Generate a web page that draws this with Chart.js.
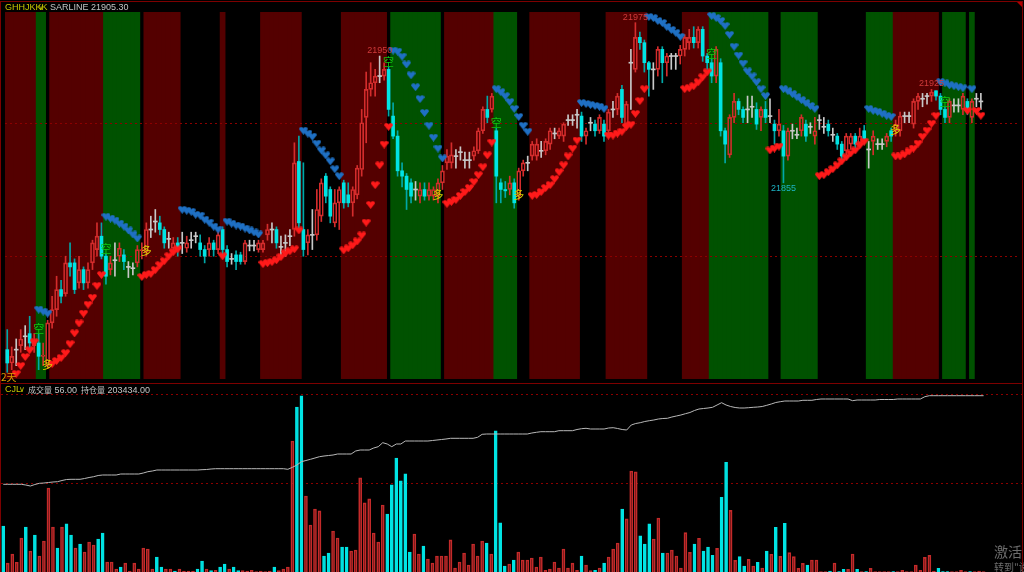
<!DOCTYPE html>
<html>
<head>
<meta charset="utf-8">
<script src="https://cdn.jsdelivr.net/npm/chart.js@4.4.0/dist/chart.umd.min.js"></script>
<style>
html, body { margin: 0; padding: 0; background: #000; width: 1024px; height: 572px; overflow: hidden; }
#wrap { position: relative; width: 1024px; height: 572px; overflow: hidden; }
canvas { position: absolute; left: 0; }
#priceCanvas { top: 0; }
#volCanvas { top: 384px; }
.t { position: absolute; white-space: nowrap; font-family: "Liberation Sans", "Noto Sans CJK SC", sans-serif; font-size: 9px; line-height: 9px; }
.line { position: absolute; background: #7d0000; }
</style>
</head>
<body>
<div id="wrap">
  <canvas id="priceCanvas" width="1024" height="384"></canvas>
  <canvas id="volCanvas" width="1024" height="188"></canvas>

  <div class="line" style="left:0;top:1px;width:1023px;height:1px;"></div>
  <div class="line" style="left:0;top:1px;width:1px;height:571px;"></div>
  <div class="line" style="left:1022px;top:1px;width:1px;height:571px;"></div>
  <div class="line" style="left:0;top:383px;width:1023px;height:1px;"></div>
  <div style="position:absolute;left:1017px;top:2px;width:0;height:0;border-top:5px solid #b00000;border-left:5px solid transparent;"></div>

  <div class="t" style="left:5px;top:3px;color:#c8c800;">GHHJKKK</div>
  <div class="t" style="left:38px;top:3px;color:#c8c800;font-family:'DejaVu Sans';font-size:8px;">&#8744;</div>
  <div class="t" style="left:50px;top:3px;color:#c4c4c4;">SARLINE 21905.30</div>
  <div class="t" style="left:1px;top:372px;color:#e09a00;font-family:'Noto Sans CJK SC';font-size:10px;line-height:10px;">2天</div>

  <div class="t" style="left:5px;top:385px;color:#c8c800;">CJL</div>
  <div class="t" style="left:19px;top:385px;color:#c8c800;font-family:'DejaVu Sans';font-size:8px;">&#8744;</div>
  <div class="t" style="left:28px;top:385px;color:#c4c4c4;"><span style="font-family:'Noto Sans CJK SC';font-size:8px;">成交量</span> 56.00</div>
  <div class="t" style="left:81px;top:385px;color:#c4c4c4;"><span style="font-family:'Noto Sans CJK SC';font-size:8px;">持仓量</span> 203434.00</div>

  <div class="t" style="left:994px;top:544px;color:#6c6c6c;font-family:'Noto Sans CJK SC';font-size:14px;line-height:14px;">激活 Windows</div>
  <div class="t" style="left:994px;top:562px;color:#6c6c6c;font-family:'Noto Sans CJK SC';font-size:10px;line-height:10px;">转到"设置"以激活</div>
</div>
<script>
// slots on the x axis: 218 candles + empty space on the right
const N_SLOTS = 226;

const openP = [
21730,21720,21730,21733,21740,21742,21733,21735,21725,21718,
21750,21760,21775,21772,21795,21795,21780,21790,21780,21795,
21805,21815,21800,21790,21797,21800,21801,21792,21791,21795,
21804,21803,21820,21826,21825,21820,21813,21806,21810,21810,
21806,21812,21815,21810,21805,21805,21810,21805,21820,21805,
21798,21801,21801,21796,21808,21808,21805,21805,21816,21820,
21820,21807,21810,21815,21820,21871,21820,21810,21816,21816,
21830,21860,21850,21825,21840,21855,21846,21840,21846,21865,
21904,21925,21930,21935,21935,21940,21905,21890,21864,21860,
21855,21850,21845,21850,21845,21845,21845,21855,21870,21870,
21875,21878,21872,21872,21875,21879,21894,21910,21910,21894,
21855,21850,21850,21855,21845,21864,21870,21875,21875,21879,
21879,21884,21892,21890,21890,21902,21902,21906,21905,21890,
21900,21899,21894,21899,21894,21910,21910,21925,21899,21945,
21940,21964,21960,21945,21940,21940,21955,21945,21950,21950,
21950,21955,21960,21964,21960,21970,21950,21945,21935,21945,
21894,21876,21904,21916,21910,21910,21912,21910,21904,21910,
21905,21899,21894,21894,21875,21894,21891,21894,21899,21897,
21890,21902,21897,21899,21891,21890,21884,21879,21884,21890,
21885,21894,21880,21886,21884,21884,21886,21894,21894,21894,
21905,21905,21899,21916,21918,21920,21920,21924,21920,21910,
21904,21913,21913,21910,21916,21904,21918,21916];

const highP = [
21745,21732,21738,21745,21748,21755,21742,21742,21735,21752,
21770,21785,21782,21800,21810,21798,21800,21792,21795,21812,
21825,21825,21802,21800,21810,21810,21805,21796,21795,21808,
21810,21825,21830,21835,21830,21822,21818,21814,21814,21818,
21815,21818,21818,21816,21808,21814,21812,21818,21822,21808,
21802,21804,21803,21812,21812,21812,21812,21812,21824,21825,
21822,21815,21816,21820,21885,21890,21870,21820,21835,21850,
21858,21862,21852,21850,21852,21857,21855,21852,21868,21910,
21938,21945,21940,21950,21945,21942,21915,21894,21870,21862,
21858,21856,21855,21855,21855,21852,21858,21868,21880,21885,
21880,21882,21878,21878,21882,21896,21912,21920,21922,21896,
21858,21856,21860,21858,21866,21872,21875,21886,21888,21886,
21888,21896,21896,21896,21900,21906,21906,21910,21908,21896,
21904,21902,21906,21902,21910,21916,21922,21928,21916,21955,
21975,21968,21962,21946,21945,21957,21957,21952,21952,21952,
21958,21966,21970,21972,21972,21972,21952,21948,21957,21948,
21896,21906,21922,21918,21912,21920,21920,21915,21912,21916,
21918,21902,21910,21898,21896,21899,21896,21906,21902,21900,
21904,21906,21904,21902,21896,21892,21886,21892,21892,21892,
21896,21898,21886,21894,21888,21888,21892,21896,21902,21908,
21908,21908,21918,21922,21922,21922,21925,21924,21922,21912,
21918,21918,21918,21922,21918,21918,21922,21922];

const lowP = [
21713,21715,21718,21728,21730,21730,21728,21715,21718,21716,
21746,21755,21765,21770,21785,21772,21776,21775,21776,21790,
21800,21798,21779,21786,21785,21796,21790,21784,21786,21792,
21798,21800,21814,21818,21816,21806,21806,21802,21800,21802,
21803,21806,21810,21800,21795,21800,21800,21802,21800,21792,
21794,21790,21794,21794,21804,21804,21803,21803,21812,21810,
21806,21800,21800,21808,21815,21820,21800,21801,21805,21812,
21826,21840,21825,21822,21820,21836,21837,21830,21843,21860,
21885,21920,21920,21930,21932,21905,21888,21860,21852,21835,
21840,21842,21840,21842,21842,21842,21840,21850,21865,21866,
21866,21872,21866,21866,21872,21877,21892,21900,21908,21840,
21840,21844,21846,21836,21842,21860,21864,21872,21872,21874,
21876,21880,21888,21888,21886,21898,21898,21896,21886,21884,
21894,21890,21892,21886,21892,21904,21906,21900,21896,21910,
21938,21955,21938,21920,21925,21935,21930,21935,21940,21940,
21944,21950,21955,21956,21956,21946,21940,21930,21930,21890,
21870,21874,21900,21906,21900,21900,21904,21895,21894,21900,
21900,21884,21890,21855,21872,21888,21888,21890,21886,21892,
21884,21895,21892,21890,21886,21880,21870,21876,21880,21880,
21882,21884,21866,21876,21880,21880,21882,21886,21890,21890,
21900,21900,21896,21910,21912,21914,21916,21917,21906,21900,
21900,21908,21908,21906,21906,21900,21912,21910];

const closeP = [
21720,21725,21730,21738,21740,21735,21737,21725,21726,21750,
21760,21775,21770,21795,21792,21775,21790,21780,21790,21810,
21815,21800,21785,21795,21797,21806,21796,21792,21791,21805,
21805,21820,21820,21826,21820,21810,21813,21810,21806,21810,
21810,21812,21815,21805,21800,21810,21805,21816,21805,21796,
21798,21796,21796,21810,21808,21808,21810,21810,21820,21820,
21810,21807,21810,21815,21870,21825,21805,21816,21816,21835,
21855,21845,21830,21840,21850,21840,21840,21850,21866,21900,
21925,21930,21935,21935,21940,21910,21890,21864,21860,21850,
21845,21850,21850,21845,21850,21850,21855,21864,21875,21876,
21875,21878,21872,21872,21879,21894,21910,21904,21920,21860,
21850,21849,21855,21840,21864,21870,21870,21884,21884,21879,
21886,21894,21892,21894,21899,21902,21902,21906,21890,21894,
21900,21894,21904,21890,21908,21910,21920,21904,21914,21945,
21964,21960,21945,21940,21940,21955,21945,21950,21950,21950,
21955,21964,21964,21960,21970,21950,21945,21935,21955,21894,
21884,21904,21916,21910,21904,21910,21912,21899,21910,21904,
21905,21894,21899,21875,21894,21894,21891,21904,21890,21897,
21894,21902,21897,21894,21891,21884,21875,21890,21890,21884,
21890,21888,21880,21890,21884,21884,21890,21890,21899,21905,
21905,21905,21916,21920,21918,21920,21923,21920,21910,21904,
21916,21913,21913,21920,21910,21916,21918,21916];

// SAR (stop and reverse) value per candle
const sarP = [
null,null,21711.9,21717.8,21724.5,21729.6,21735.6,21760,21758.5,21757,
21719.3,21721.5,21723.7,21727.4,21734.1,21742.2,21749.6,21757,21763.7,21768.9,
21777.8,21785.9,21829.6,21828.2,21826.7,21824.4,21822.2,21819.3,21816.3,21813.3,
21784.4,21785.9,21786.7,21789.6,21793.3,21796.3,21800,21803,21805.2,21834.8,
21834.1,21833.3,21831.1,21830.4,21827.4,21825.2,21822.2,21820,21800,21825.9,
21824.4,21823,21822.2,21820.7,21819.3,21817.8,21816.3,21794.1,21794.8,21795.6,
21797,21799.3,21802.2,21803.7,21805.2,21819.3,21894.1,21891.9,21889.6,21884.4,
21879.3,21875.6,21871.1,21865.2,21860,21804.4,21805.9,21808.2,21811.1,21815.6,
21825.2,21838.5,21853.3,21868.1,21883.7,21897,21954.1,21953.3,21949.6,21943.7,
21935.6,21926.7,21917.8,21907.4,21897.8,21888.9,21880.7,21873.3,21839.3,21840.7,
21842.2,21845.2,21848.1,21851.1,21855.6,21860.7,21866.7,21875.6,21885.2,21925.2,
21923,21920,21915.6,21910.4,21904.4,21897.8,21893.3,21845.2,21845.9,21848.1,
21851.1,21853.3,21857.8,21863,21868.1,21874.8,21880.7,21886.7,21914.8,21914.1,
21913.3,21912.6,21911.9,21910.4,21890.4,21890.4,21891.9,21893.3,21897,21898.5,
21906.7,21916.3,21925.2,21979.3,21978.5,21976.3,21974.8,21971.9,21969.6,21967.4,
21964.4,21925.2,21925.9,21927.4,21930.4,21934.1,21937.8,21980,21978.5,21976.3,
21972.6,21965.9,21957,21950.4,21944.4,21938.5,21934.8,21930.4,21925.2,21920,
21879.3,21880.7,21882.2,21925.2,21923.7,21921.5,21919.3,21917,21914.8,21912.6,
21910.4,21860,21860.7,21863,21865.2,21868.1,21871.1,21874.1,21877,21879.3,
21883,21885.9,21910.4,21908.9,21908.1,21906.7,21905.2,21904.4,21874.8,21874.8,
21876.3,21878.5,21880.7,21884.4,21889.6,21894.1,21899.3,21905.2,21930.4,21929.6,
21928.1,21927.4,21926.7,21925.9,21908.9,21925.2,21908.9,21905.3];

const volume = [
517,100,200,110,380,505,236,416,180,348,
944,505,270,505,540,416,270,315,225,337,
303,371,438,112,112,34,56,100,10,100,
34,270,258,34,169,56,34,34,10,34,
10,10,10,34,124,34,15,20,56,90,
34,56,15,15,10,20,5,10,5,10,
56,15,34,56,1472,1854,1978,854,528,708,
686,180,213,461,382,281,281,236,247,1057,
776,821,438,337,753,652,978,1281,1023,1102,
225,427,202,292,146,101,180,180,180,360,
45,112,213,79,315,180,348,326,202,1585,
551,67,90,135,225,135,135,157,56,169,
20,34,112,45,258,45,100,20,180,78,
15,20,45,100,169,258,326,708,596,1135,
1124,405,315,540,371,607,213,213,247,180,
45,442,221,315,379,236,281,187,266,839,
1233,693,131,172,67,142,67,109,45,236,
199,502,176,547,217,172,41,97,79,135,
135,5,5,11,101,5,30,30,202,30,
5,5,41,5,5,5,5,5,5,19,
5,5,79,19,165,187,11,41,5,5,
5,5,19,5,5,5,11,5];

const openInterest = [
194574,194574,194574,194574,194574,194504,194404,194554,194674,194704,
194754,194804,194834,194954,195054,195074,195074,195074,195154,195254,
195334,195454,195504,195504,195504,195504,195604,195604,195604,195604,
195604,195704,195834,195904,196004,196004,196004,196004,196004,196004,
196004,196004,196004,196004,196034,196054,196104,196134,196134,196134,
196134,196134,196134,196134,196134,196134,196134,196134,196134,196134,
196134,196134,196134,196074,196274,196504,196834,196954,197074,197204,
197334,197404,197454,197504,197604,197604,197604,197604,197904,198004,
198004,198004,198204,198334,198734,198604,198334,198604,198604,198904,
198904,198904,198904,198904,198904,198954,199004,199054,199104,199174,
199174,199174,199174,199174,199174,199274,199574,199604,199604,199604,
199604,199604,199604,199604,199604,199604,199604,199704,199774,199834,
199834,199834,199834,199934,199934,199934,199934,200054,200134,200174,
200104,200104,200104,200104,200204,200234,200154,200054,200004,200504,
200654,200734,200854,200934,201004,201104,201154,201174,201304,201404,
201504,201634,201754,201954,202104,202154,202204,202274,202504,202734,
202504,202354,202254,202204,202204,202234,202274,202304,202354,202474,
202604,202754,202834,202904,202904,202904,202904,202974,202974,202974,
203054,203104,203104,203104,203104,203104,203104,203104,202934,203004,
203004,203004,203004,203004,203054,203054,203054,203054,203104,203104,
203104,203104,203104,203104,203334,203434,203434,203434,203434,203434,
203434,203434,203434,203434,203434,203434,203434,203434];

// background state per candle: r = long, g = short, k = neutral
const bandRuns = [
  ['r',7],['g',2],['k',1],['r',12],['g',8],['k',1],['r',8],['k',9],['r',1],['k',8],
  ['r',9],['k',9],['r',10],['k',1],['g',11],['k',1],['r',11],['g',5],['k',3],['r',11],
  ['k',6],['r',9],['k',8],['r',6],['g',13],['k',3],['g',8],['k',11],['g',6],['r',10],
  ['k',1],['g',5],['k',1],['g',1],['k',2]
];

const longSignals = [9, 31, 96, 114, 198];      // 多
const shortSignals = [7, 22, 85, 109, 157, 209]; // 空
const peakIdx = [83, 140, 206];
const troughIdx = [173];
const priceGrid = [21800, 21900];
const volumeGrid = [1000, 2000];

const UP = '#d42c2c';
const DOWN = '#00e4e4';
const DOWN_WICK = '#00a8a8';
const DOJI = '#c8c8c8';
const BAND_COLORS = { r: '#540000', g: '#005200' };

const slots = Array.from({ length: N_SLOTS }, (_, i) => String(i));
const n = openP.length;

function fill(fn) {
    const out = [];
    for (let i = 0; i < N_SLOTS; i++) out.push(i < n ? fn(i) : null);
    return out;
}

const bandCodes = [];
bandRuns.forEach(([c, len]) => { for (let k = 0; k < len; k++) bandCodes.push(c); });

const kind = fill(i => closeP[i] > openP[i] ? 'up' : (closeP[i] < openP[i] ? 'down' : 'doji'));
const wickColor = kind.map(k => k === 'up' ? UP : (k === 'down' ? DOWN_WICK : DOJI));

function makeHeart(color) {
    const c = document.createElement('canvas');
    c.width = 9;
    c.height = 8;
    const g = c.getContext('2d');
    g.fillStyle = color;
    g.beginPath();
    g.arc(2.4, 2.5, 2.3, Math.PI, 0);
    g.arc(6.6, 2.5, 2.3, Math.PI, 0);
    g.lineTo(4.5, 7.9);
    g.closePath();
    g.fill();
    return c;
}

const overlayPlugin = {
    id: 'overlay',
    afterDatasetDraw(chart, args) {
        if (args.index !== 0) return;
        const { ctx, chartArea, scales } = chart;
        ctx.save();
        ctx.strokeStyle = '#8c0000';
        ctx.lineWidth = 1;
        ctx.setLineDash([2, 3]);
        priceGrid.forEach(v => {
            const y = Math.round(scales.y.getPixelForValue(v)) + 0.5;
            ctx.beginPath();
            ctx.moveTo(chartArea.left, y);
            ctx.lineTo(chartArea.right, y);
            ctx.stroke();
        });
        ctx.restore();
    },
    afterDatasetsDraw(chart) {
        const { ctx, scales } = chart;
        const xs = scales.x, ys = scales.y;
        ctx.save();
        ctx.textAlign = 'center';
        ctx.font = '11px "Noto Sans CJK SC"';
        ctx.textBaseline = 'middle';
        shortSignals.forEach(i => {
            ctx.fillStyle = '#10c810';
            ctx.fillText('空', xs.getPixelForValue(i), ys.getPixelForValue(highP[i]) - 5);
        });
        longSignals.forEach(i => {
            ctx.fillStyle = '#dcd000';
            ctx.fillText('多', xs.getPixelForValue(i), ys.getPixelForValue(Math.min(openP[i], closeP[i])) - 1);
        });
        ctx.font = '9px "Liberation Sans"';
        ctx.fillStyle = '#d03a3a';
        ctx.textBaseline = 'bottom';
        peakIdx.forEach(i => {
            ctx.fillText(String(highP[i]), xs.getPixelForValue(i), ys.getPixelForValue(highP[i]) - 1);
        });
        ctx.fillStyle = '#1cb4c4';
        ctx.textBaseline = 'top';
        troughIdx.forEach(i => {
            ctx.fillText(String(lowP[i]), xs.getPixelForValue(i), ys.getPixelForValue(lowP[i]) + 1);
        });
        ctx.restore();
    }
};

new Chart(document.getElementById('priceCanvas'), {
    type: 'bar',
    data: {
        labels: slots,
        datasets: [
            {
                label: 'bands',
                data: fill(i => bandCodes[i] === 'k' ? null : 1),
                yAxisID: 'yb',
                backgroundColor: fill(i => BAND_COLORS[bandCodes[i]] || 'rgba(0,0,0,0)'),
                barPercentage: 1,
                categoryPercentage: 1,
                inflateAmount: 0.6,
                grouped: false,
                order: 9
            },
            {
                label: 'upperWick',
                data: fill(i => [Math.max(openP[i], closeP[i]), highP[i]]),
                backgroundColor: wickColor,
                barThickness: 1,
                grouped: false,
                order: 8
            },
            {
                label: 'lowerWick',
                data: fill(i => [lowP[i], Math.min(openP[i], closeP[i])]),
                backgroundColor: wickColor,
                barThickness: 1,
                grouped: false,
                order: 8
            },
            {
                label: 'upBody',
                data: fill(i => kind[i] === 'up' ? [openP[i], closeP[i]] : null),
                backgroundColor: 'rgba(0,0,0,0)',
                borderColor: UP,
                borderWidth: 1,
                borderSkipped: false,
                barThickness: 4,
                grouped: false,
                order: 6
            },
            {
                label: 'downBody',
                data: fill(i => kind[i] === 'down' ? [closeP[i], openP[i]] : null),
                backgroundColor: DOWN,
                barThickness: 3,
                grouped: false,
                order: 6
            },
            {
                label: 'dojiBody',
                data: fill(i => kind[i] === 'doji' ? [openP[i] - 0.37, openP[i] + 0.37] : null),
                backgroundColor: DOJI,
                barThickness: 4,
                grouped: false,
                order: 6
            },
            {
                type: 'line',
                label: 'sarLong',
                data: fill(i => sarP[i] !== null && sarP[i] < closeP[i] ? sarP[i] : null),
                showLine: false,
                pointStyle: makeHeart('#ff1a1a'),
                order: 1
            },
            {
                type: 'line',
                label: 'sarShort',
                data: fill(i => sarP[i] !== null && sarP[i] >= closeP[i] ? sarP[i] : null),
                showLine: false,
                pointStyle: makeHeart('#1f70c4'),
                order: 1
            }
        ]
    },
    options: {
        responsive: false,
        animation: false,
        devicePixelRatio: 1,
        layout: { padding: { left: 1, right: 2, top: 12, bottom: 1 } },
        plugins: { legend: { display: false }, tooltip: { enabled: false } },
        scales: {
            x: { display: false, offset: true },
            y: { display: false, min: 21708, max: 21983 },
            yb: { display: false, min: 0, max: 1 }
        }
    },
    plugins: [overlayPlugin]
});

const volGridPlugin = {
    id: 'volGrid',
    beforeDatasetsDraw(chart) {
        const { ctx, chartArea, scales } = chart;
        ctx.save();
        ctx.strokeStyle = '#8c0000';
        ctx.lineWidth = 1;
        ctx.setLineDash([2, 3]);
        volumeGrid.forEach(v => {
            const y = Math.round(scales.yv.getPixelForValue(v)) + 0.5;
            ctx.beginPath();
            ctx.moveTo(chartArea.left, y);
            ctx.lineTo(chartArea.right, y);
            ctx.stroke();
        });
        ctx.restore();
    }
};

new Chart(document.getElementById('volCanvas'), {
    type: 'bar',
    data: {
        labels: slots,
        datasets: [
            {
                type: 'line',
                label: '持仓量',
                data: fill(i => openInterest[i]),
                yAxisID: 'yo',
                borderColor: '#b8b8b8',
                borderWidth: 1,
                pointRadius: 0,
                order: 1
            },
            {
                label: '成交量',
                data: fill(i => volume[i]),
                yAxisID: 'yv',
                backgroundColor: kind.map(k => k === 'down' ? DOWN : 'rgba(0,0,0,0)'),
                borderColor: kind.map(k => k === 'down' ? DOWN : '#c42a2a'),
                borderWidth: 1,
                borderSkipped: 'bottom',
                barThickness: 3,
                order: 2
            }
        ]
    },
    options: {
        responsive: false,
        animation: false,
        devicePixelRatio: 1,
        layout: { padding: { left: 1, right: 2, top: 0, bottom: 0 } },
        plugins: { legend: { display: false }, tooltip: { enabled: false } },
        scales: {
            x: { display: false, offset: true },
            yv: { display: false, min: 0, max: 2112 },
            yo: { display: false, min: 185804, max: 204604 }
        }
    },
    plugins: [volGridPlugin]
});
</script>
</body>
</html>
